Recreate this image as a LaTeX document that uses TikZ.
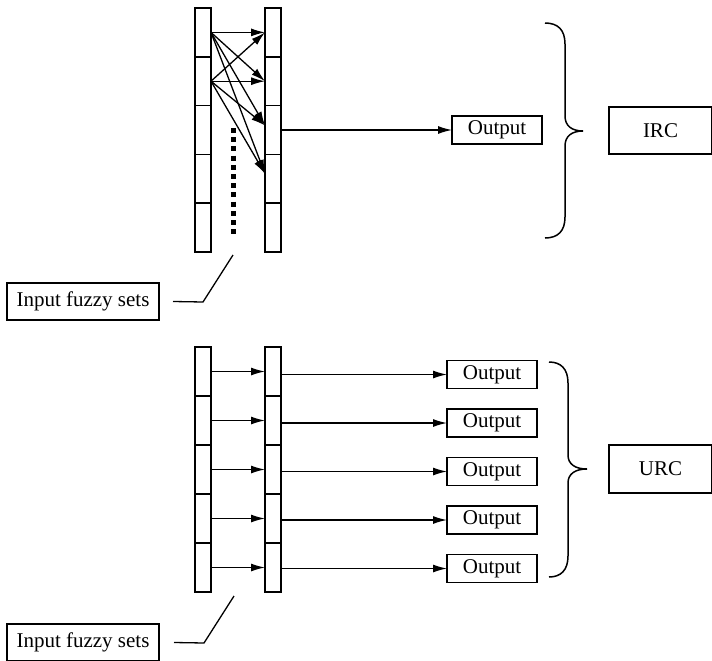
\documentclass[tikz,border=0pt]{standalone}
\usepackage{fontspec}
\setmainfont{Liberation Serif}
\usetikzlibrary{arrows.meta}
\begin{document}
\begin{tikzpicture}[x=1pt,y=-1pt,
  cell/.style={draw, line width=1.5pt, minimum width=16pt, minimum height=48.8pt, inner sep=0pt, outer sep=0pt},
  box/.style={draw, line width=1.3pt, inner sep=0pt, outer sep=0pt, font=\fontsize{21}{24}\selectfont},
  outbox/.style={box, minimum width=90pt, minimum height=28pt},
  inbox/.style={box, minimum width=152pt, minimum height=37pt},
  clsbox/.style={box, minimum width=103pt, minimum height=47pt},
  arr/.style={line width=1.3pt, -{Latex[length=14pt,width=8pt]}},
  ln/.style={line width=1.3pt},
  brc/.style={line width=1.5pt},
  dots/.style={line width=5pt, dash pattern=on 5pt off 4.2pt}]
\useasboundingbox (0,0) rectangle (712,661);

% ---------- top (IRC) ----------
\foreach \i in {1,...,5} {
  \node[cell] (L\i) at (203,{32.4+48.8*(\i-1)}) {};
  \node[cell] (R\i) at (273,{32.4+48.8*(\i-1)}) {};
}
\foreach \s in {1,2} {
  \draw[arr] (L\s.east) -- (R1.west);
  \draw[arr] (L\s.east) -- (R2.west);
  \draw[arr] (L\s.east) -- ([yshift=4.5pt]R3.west);
  \draw[arr] (L\s.east) -- ([yshift=5pt]R4.west);
}
\coordinate (d1) at (233,128);
\coordinate (d2) at (233,238);
\draw[dots] (d1) -- (d2);

\node[outbox] (O) at (497,130) {Output};
\draw[arr] (R3.east) -- (O.west);

\draw[brc] (545,23) .. controls (558,23) and (565,30) .. (565,44) -- (565,116)
  .. controls (565,126) and (572,131) .. (583,131)
  .. controls (572,131) and (565,136) .. (565,146) -- (565,217)
  .. controls (565,231) and (558,238) .. (545,238);
\node[clsbox] (IRC) at (660.5,130.5) {IRC};

\node[inbox] (In1) at (83,301.5) {Input fuzzy sets};
\coordinate (k1) at (203,302);
\coordinate (t1) at (233,255);
\draw[ln] ([xshift=14pt]In1.east) -- (k1) -- (t1);

% ---------- bottom (URC) ----------
\foreach \i in {1,...,5} {
  \node[cell, minimum height=49pt] (BL\i) at (203,{371.5+49*(\i-1)}) {};
  \node[cell, minimum height=49pt] (BR\i) at (273,{371.5+49*(\i-1)}) {};
  \node[outbox] (O\i) at (492,{374.5+48.5*(\i-1)}) {Output};
  \draw[arr] (BL\i.east) -- (BR\i.west);
  \draw[arr] (O\i.west -| BR\i.east) -- (O\i.west);
}

\draw[brc] (549,362) .. controls (561,362) and (568,369) .. (568,383) -- (568,455)
  .. controls (568,464) and (575,469) .. (587,469)
  .. controls (575,469) and (568,474) .. (568,483) -- (568,556)
  .. controls (568,570) and (561,577) .. (549,577);
\node[clsbox, minimum height=48pt] (URC) at (660.5,469) {URC};

\node[inbox] (In2) at (83,642.5) {Input fuzzy sets};
\coordinate (k2) at (204,643);
\coordinate (t2) at (234,596);
\draw[ln] ([xshift=15pt]In2.east) -- (k2) -- (t2);
\end{tikzpicture}
\end{document}
